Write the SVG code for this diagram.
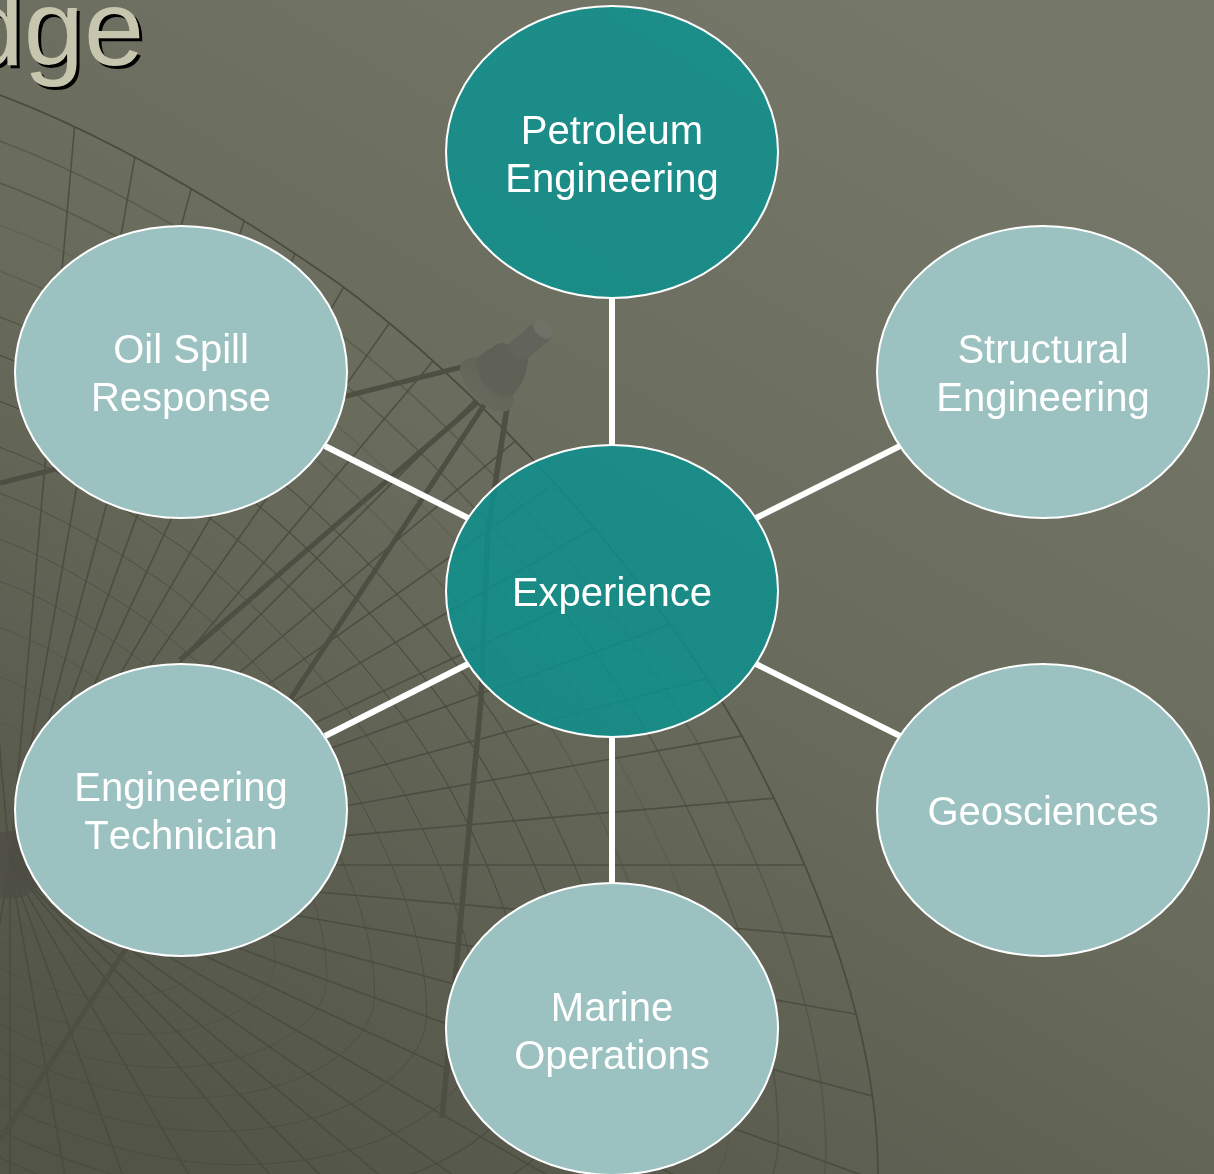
<svg xmlns="http://www.w3.org/2000/svg" xmlns:xlink="http://www.w3.org/1999/xlink" width="1214" height="1174" viewBox="0 0 1214 1174">
<style>
.label{font-family:"Liberation Sans",Arial,sans-serif;font-size:40px;fill:#fff;text-anchor:middle;font-kerning:none}
.title{font-family:"Liberation Sans",Arial,sans-serif;font-size:108px;text-anchor:end}
.light{fill:#9bc1c0;stroke:#fff;stroke-width:2}
.teal{fill:url(#dither);stroke:#fff;stroke-width:2}
.conn{stroke:#fff;stroke-width:6;fill:none}
.ring{fill:none;stroke:#4a4b3f;stroke-width:1.7;vector-effect:non-scaling-stroke}
.rad{stroke:#4a4b3f;stroke-width:1.6;opacity:.85}
.strut{stroke:#4e4f42;fill:none}
</style>
<defs>
<linearGradient id="bg" gradientUnits="userSpaceOnUse" x1="900" y1="0" x2="200" y2="1174">
<stop offset="0" stop-color="#757768"/><stop offset=".5" stop-color="#686a5b"/><stop offset="1" stop-color="#525448"/>
</linearGradient>
<linearGradient id="sat" x1="0" y1="1" x2="1" y2="0">
<stop offset="0" stop-color="#6b6d61"/><stop offset=".5" stop-color="#606156"/><stop offset="1" stop-color="#66675c"/>
</linearGradient>
<pattern id="dither" width="2" height="2" patternUnits="userSpaceOnUse">
<rect width="2" height="2" fill="#079694" fill-opacity=".8"/>
<rect width="1" height="1" fill="#0a6f6e" fill-opacity=".2"/>
</pattern>
<path id="rim" d="M-300,20C-200,40-100,55 0,95C120,140 240,215 338,283C470,380 640,560 737,727C810,860 878,1020 878,1174C878,1300 700,1420 433,1420C200,1420-100,1300-300,1100C-500,900-500,0-300,20Z"/>
<clipPath id="rimClip"><use href="#rim" xlink:href="#rim"/></clipPath>
<line id="r" x1="10" y1="865" x2="1400" y2="865"/>
</defs>
<rect id="background" width="1214" height="1174" fill="url(#bg)"/>
<g id="web">
<g class="ring">
<use href="#rim" xlink:href="#rim"/>
<use href="#rim" xlink:href="#rim" opacity=".5" transform="translate(10 865) scale(.94) translate(-10 -865)"/>
<use href="#rim" xlink:href="#rim" opacity=".6" transform="translate(10 865) scale(.885) translate(-10 -865)"/>
<use href="#rim" xlink:href="#rim" opacity=".25" transform="translate(10 865) scale(.83) translate(-10 -865)"/>
<use href="#rim" xlink:href="#rim" opacity=".4" transform="translate(10 865) scale(.77) translate(-10 -865)"/>
<use href="#rim" xlink:href="#rim" opacity=".8" transform="translate(10 865) scale(.71) translate(-10 -865)"/>
<use href="#rim" xlink:href="#rim" transform="translate(10 865) scale(.66) translate(-10 -865)"/>
<use href="#rim" xlink:href="#rim" transform="translate(10 865) scale(.6) translate(-10 -865)"/>
<use href="#rim" xlink:href="#rim" transform="translate(10 865) scale(.54) translate(-10 -865)"/>
<use href="#rim" xlink:href="#rim" transform="translate(10 865) scale(.48) translate(-10 -865)"/>
<use href="#rim" xlink:href="#rim" transform="translate(10 865) scale(.42) translate(-10 -865)"/>
<use href="#rim" xlink:href="#rim" transform="translate(10 865) scale(.365) translate(-10 -865)"/>
<use href="#rim" xlink:href="#rim" transform="translate(10 865) scale(.305) translate(-10 -865)"/>
<use href="#rim" xlink:href="#rim" transform="translate(10 865) scale(.24) translate(-10 -865)"/>
<use href="#rim" xlink:href="#rim" transform="translate(10 865) scale(.18) translate(-10 -865)"/>
<use href="#rim" xlink:href="#rim" transform="translate(10 865) scale(.12) translate(-10 -865)"/>
<use href="#rim" xlink:href="#rim" transform="translate(10 865) scale(.06) translate(-10 -865)"/>
</g>
<g class="rad" clip-path="url(#rimClip)">
<use href="#r" xlink:href="#r" transform="rotate(-95 10 865)"/>
<use href="#r" xlink:href="#r" transform="rotate(-85 10 865)"/>
<use href="#r" xlink:href="#r" transform="rotate(-80 10 865)"/>
<use href="#r" xlink:href="#r" transform="rotate(-75 10 865)"/>
<use href="#r" xlink:href="#r" transform="rotate(-70 10 865)"/>
<use href="#r" xlink:href="#r" transform="rotate(-65 10 865)"/>
<use href="#r" xlink:href="#r" transform="rotate(-60 10 865)"/>
<use href="#r" xlink:href="#r" transform="rotate(-55 10 865)"/>
<use href="#r" xlink:href="#r" transform="rotate(-50 10 865)"/>
<use href="#r" xlink:href="#r" transform="rotate(-45 10 865)"/>
<use href="#r" xlink:href="#r" transform="rotate(-40 10 865)"/>
<use href="#r" xlink:href="#r" transform="rotate(-35 10 865)"/>
<use href="#r" xlink:href="#r" transform="rotate(-30 10 865)"/>
<use href="#r" xlink:href="#r" transform="rotate(-25 10 865)"/>
<use href="#r" xlink:href="#r" transform="rotate(-20 10 865)"/>
<use href="#r" xlink:href="#r" transform="rotate(-15 10 865)"/>
<use href="#r" xlink:href="#r" transform="rotate(-10 10 865)"/>
<use href="#r" xlink:href="#r" transform="rotate(-5 10 865)"/>
<use href="#r" xlink:href="#r"/>
<use href="#r" xlink:href="#r" transform="rotate(5 10 865)"/>
<use href="#r" xlink:href="#r" transform="rotate(10 10 865)"/>
<use href="#r" xlink:href="#r" transform="rotate(15 10 865)"/>
<use href="#r" xlink:href="#r" transform="rotate(20 10 865)"/>
<use href="#r" xlink:href="#r" transform="rotate(25 10 865)"/>
<use href="#r" xlink:href="#r" transform="rotate(30 10 865)"/>
<use href="#r" xlink:href="#r" transform="rotate(35 10 865)"/>
<use href="#r" xlink:href="#r" transform="rotate(40 10 865)"/>
<use href="#r" xlink:href="#r" transform="rotate(45 10 865)"/>
<use href="#r" xlink:href="#r" transform="rotate(50 10 865)"/>
<use href="#r" xlink:href="#r" transform="rotate(60 10 865)"/>
<use href="#r" xlink:href="#r" transform="rotate(70 10 865)"/>
<use href="#r" xlink:href="#r" transform="rotate(80 10 865)"/>
<use href="#r" xlink:href="#r" transform="rotate(90 10 865)"/>
<use href="#r" xlink:href="#r" transform="rotate(100 10 865)"/>
</g>
<circle cx="10" cy="865" r="34" fill="#4d4e44" opacity=".75"/>
<g class="strut">
<path stroke-width="5" d="M462,367L0,483"/>
<path stroke-width="5" d="M478,402L180,660"/>
<path stroke-width="5" d="M484,405L125,950L0,1140"/>
<path stroke-width="5.5" d="M507,408L488,530L481,700L456,970L442,1118"/>
</g>
</g>
<g id="satellite">
<path fill="url(#sat)" d="M460,368C461,360 470,356 477,358L485,352L493,347C497,343 503,342 508,345L534,322L552,338L528,358C528,372 520,388 513,395C514,402 512,409 507,411C499,413 490,409 485,405C470,397 462,382 460,368Z"/>
<path fill="#5e5f55" opacity=".7" d="M477,358L485,352L493,347C497,343 503,342 508,345C505,354 512,362 528,358C528,372 520,388 513,395C505,397 492,395 485,385C478,376 476,366 477,358Z"/>
<path fill="#62635a" d="M534,322L552,338L528,358C520,362 510,358 508,345Z"/>
<ellipse cx="543" cy="329" rx="7.5" ry="12" fill="#6f7166" transform="rotate(-47 543 329)"/>
</g>
<g id="title">
<text class="title" x="147" y="68" fill="#000">dge</text>
<text class="title" x="144" y="65" fill="#c6c5ad">dge</text>
</g>
<g id="connectors">
<line class="conn" x1="612" y1="298" x2="612" y2="445"/>
<line class="conn" x1="756" y1="518" x2="900" y2="446"/>
<line class="conn" x1="756" y1="664" x2="900" y2="736"/>
<line class="conn" x1="612" y1="738" x2="612" y2="884"/>
<line class="conn" x1="468" y1="664" x2="325" y2="736"/>
<line class="conn" x1="468" y1="518" x2="325" y2="446"/>
</g>
<g id="node-experience"><ellipse class="teal" cx="612" cy="591" rx="166" ry="146"/><text class="label" x="612" y="606">Experience</text></g>
<g id="node-petroleum"><ellipse class="teal" cx="612" cy="152" rx="166" ry="146"/><text class="label" x="612" y="144">Petroleum</text><text class="label" x="612" y="192">Engineering</text></g>
<g id="node-structural"><ellipse class="light" cx="1043" cy="372" rx="166" ry="146"/><text class="label" x="1043" y="363">Structural</text><text class="label" x="1043" y="411">Engineering</text></g>
<g id="node-geosciences"><ellipse class="light" cx="1043" cy="810" rx="166" ry="146"/><text class="label" x="1043" y="825">Geosciences</text></g>
<g id="node-marine"><ellipse class="light" cx="612" cy="1029" rx="166" ry="146"/><text class="label" x="612" y="1021">Marine</text><text class="label" x="612" y="1069">Operations</text></g>
<g id="node-technician"><ellipse class="light" cx="181" cy="810" rx="166" ry="146"/><text class="label" x="181" y="801">Engineering</text><text class="label" x="181" y="849">Technician</text></g>
<g id="node-oilspill"><ellipse class="light" cx="181" cy="372" rx="166" ry="146"/><text class="label" x="181" y="363">Oil Spill</text><text class="label" x="181" y="411">Response</text></g>
</svg>
